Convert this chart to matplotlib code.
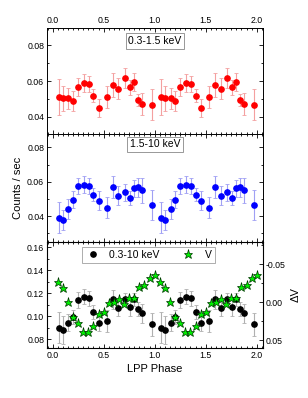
import matplotlib
matplotlib.use("Agg")
import matplotlib.pyplot as plt
from matplotlib.ticker import MultipleLocator

plt.rcParams['font.family'] = ['Liberation Sans', 'DejaVu Sans']

# X-ray phase bins (one cycle, repeated at +1)
phase_x = [0.06, 0.105, 0.155, 0.20, 0.25, 0.305, 0.355, 0.40, 0.455,
           0.535, 0.59, 0.645, 0.71, 0.76, 0.795, 0.835, 0.875, 0.97]

soft = [0.0510, 0.0503, 0.0503, 0.0490, 0.0565, 0.0587, 0.0585, 0.0519, 0.0450,
        0.0510, 0.0576, 0.0558, 0.0617, 0.0565, 0.0596, 0.0495, 0.0473, 0.0468]
soft_err = [0.0100, 0.0070, 0.0058, 0.0057, 0.0050, 0.0050, 0.0045, 0.0035, 0.0050,
            0.0060, 0.0066, 0.0060, 0.0057, 0.0043, 0.0050, 0.0032, 0.0060, 0.0087]

hard = [0.0390, 0.0377, 0.0441, 0.0497, 0.0577, 0.0584, 0.0577, 0.0526, 0.0489,
        0.0450, 0.0567, 0.0518, 0.0538, 0.0507, 0.0563, 0.0567, 0.0551, 0.0466]
hard_err = [0.0090, 0.0060, 0.0058, 0.0050, 0.0046, 0.0047, 0.0046, 0.0040, 0.0055,
            0.0063, 0.0064, 0.0055, 0.0052, 0.0039, 0.0050, 0.0057, 0.0074, 0.0087]

total = [0.0900, 0.0879, 0.0943, 0.0995, 0.1140, 0.1168, 0.1155, 0.1039, 0.0937,
         0.0960, 0.1146, 0.1075, 0.1153, 0.1076, 0.1145, 0.1059, 0.1024, 0.0931]
total_err = [0.0135, 0.0120, 0.0073, 0.0060, 0.0070, 0.0064, 0.0063, 0.0060, 0.0063,
             0.0095, 0.0084, 0.0070, 0.0046, 0.0077, 0.0060, 0.0060, 0.0080, 0.0100]

# optical V band
phase_v = [0.05, 0.10, 0.15, 0.20, 0.25, 0.30, 0.35, 0.40, 0.45, 0.50,
           0.55, 0.60, 0.65, 0.70, 0.75, 0.80, 0.85, 0.90, 0.95, 1.00]
dV = [-0.0270, -0.0192, 0.0002, 0.0190, 0.0269, 0.0396, 0.0396, 0.0314, 0.0152, 0.0123,
      0.0012, -0.0009, -0.0038, 0.0020, -0.0062, -0.0062, -0.0203, -0.0222, -0.0326, -0.0355]

px2 = phase_x + [p + 1 for p in phase_x]
pv2 = phase_v + [p + 1 for p in phase_v]

fig = plt.figure(figsize=(3.08, 3.98), dpi=100)
L, W = 0.1526, 0.701
ax1 = fig.add_axes([L, 0.6633, W, 0.2663])
ax2 = fig.add_axes([L, 0.392, W, 0.2713])
ax3 = fig.add_axes([L, 0.1256, W, 0.2664])

ebkw = dict(fmt='o', ms=3.8, elinewidth=0.8, capsize=1.6, capthick=0.6)
ax1.errorbar(px2, soft * 2, yerr=soft_err * 2, color='#ff0000', ecolor='#f4a0a0', **ebkw)
ax2.errorbar(px2, hard * 2, yerr=hard_err * 2, color='#0000ff', ecolor='#a0a0f4', **ebkw)
ax3.errorbar(px2, total * 2, yerr=total_err * 2, color='black', ecolor='#b0b0b0', **ebkw)

ax1.set_ylim(0.0305, 0.0895)
ax2.set_ylim(0.025, 0.0878)
ax3.set_ylim(0.0722, 0.1646)

for ax in (ax1, ax2, ax3):
    ax.set_xlim(-0.055, 2.06)
    ax.xaxis.set_major_locator(MultipleLocator(0.5))
    ax.xaxis.set_minor_locator(MultipleLocator(0.05))
    ax.yaxis.set_major_locator(MultipleLocator(0.02))
    ax.yaxis.set_minor_locator(MultipleLocator(0.01))
    ax.tick_params(which='both', direction='in', top=True, right=True,
                   labelsize=6.3, width=0.6, pad=2)
    ax.tick_params(which='major', length=3)
    ax.tick_params(which='minor', length=1.6)
    for s in ax.spines.values():
        s.set_linewidth(0.7)

ax1.tick_params(labeltop=True, labelbottom=False)
ax2.tick_params(labelbottom=False)
ax3.tick_params(right=False)

ax3v = ax3.twinx()
ax3v.plot(pv2, dV * 2, '*', color='#00ee00', mec='#003300', mew=0.5, ms=6.5,
          linestyle='none')
ax3v.set_ylim(0.0601, -0.0793)
ax3v.yaxis.set_major_locator(MultipleLocator(0.05))
ax3v.yaxis.set_minor_locator(MultipleLocator(0.025))
ax3v.tick_params(which='both', direction='in', labelsize=6.3, width=0.6, pad=2)
ax3v.tick_params(which='major', length=3)
ax3v.tick_params(which='minor', length=1.6)
ax3v.yaxis.set_major_formatter(matplotlib.ticker.FormatStrFormatter('%.2f'))
ax3v.set_ylabel('ΔV', fontsize=8, labelpad=4)

ax3.set_xlabel('LPP Phase', fontsize=8, labelpad=3)
ax2.set_ylabel('Counts / sec', fontsize=8, labelpad=3)

boxkw = dict(boxstyle='square,pad=0.25', fc='white', ec='#888888', lw=0.6)
ax1.text(0.5, 0.877, '0.3-1.5 keV', transform=ax1.transAxes, ha='center', va='center',
         fontsize=7.5, bbox=boxkw)
ax2.text(0.5, 0.903, '1.5-10 keV', transform=ax2.transAxes, ha='center', va='center',
         fontsize=7.5, bbox=boxkw)

h1 = ax3.plot([], [], 'o', color='black', ms=3.8)[0]
h2 = ax3v.plot([], [], '*', color='#00ee00', mec='#003300', mew=0.5, ms=6.5)[0]
leg = ax3v.legend([h1, h2], ['0.3-10 keV', 'V'], ncol=2, loc='upper center',
                  bbox_to_anchor=(0.47, 1.005), fontsize=7.5, frameon=True, fancybox=False,
                  edgecolor='#888888', borderpad=0.3, columnspacing=2.0, handletextpad=0.8,
                  handlelength=1.5)
leg.get_frame().set_linewidth(0.6)

fig.savefig('out.png', dpi=100)
